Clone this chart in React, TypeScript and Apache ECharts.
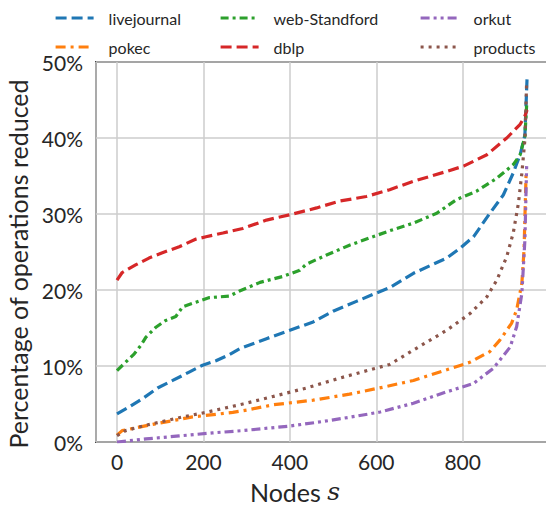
import React, { useEffect, useRef } from "react";
import * as echarts from "echarts";

const seriesNames = ["livejournal", "pokec", "web-Standford", "dblp", "orkut", "products"];
const colors = ["#1f77b4", "#ff7f0e", "#2ca02c", "#d62728", "#9467bd", "#8c564b"];
const yTicks = [0, 10, 20, 30, 40, 50];
const xTickLabels = [0, 200, 400, 600, 800];

const livejournal = [[0,3.7],[28,4.6],[59,5.7],[94,7.1],[129,8.1],[167,9.2],[198,10.1],[229,10.7],[260,11.5],[285,12.3],[346,13.6],[400,14.7],[454,15.8],[500,17.2],[554,18.5],[600,19.6],[631,20.3],[686,22.2],[763,24.2],[794,25.5],[825,27.0],[863,30.1],[894,32.5],[917,35.4],[933,37.8],[944,40.4],[949,47.9]];
const pokec = [[0,0.9],[12,1.5],[90,2.4],[175,3.3],[268,3.9],[300,4.2],[362,4.9],[454,5.5],[538,6.3],[615,7.2],[686,8.1],[763,9.5],[817,10.5],[863,11.9],[886,13.4],[913,15.6],[925,17.4],[937,20.9],[942,25.3],[947,35.8]];
const webStandford = [[0,9.4],[20,10.5],[40,11.6],[55,12.7],[67,13.8],[90,15.1],[113,16.0],[136,16.5],[152,17.8],[183,18.4],[214,19.0],[260,19.2],[285,19.9],[331,21.0],[385,21.8],[423,22.6],[438,23.4],[485,24.6],[538,25.9],[592,27.0],[631,27.8],[686,28.8],[740,30.1],[786,31.9],[832,33.0],[879,34.7],[917,36.5],[933,37.8],[944,40.2],[948,44.3]];
const dblp = [[0,21.3],[12,22.3],[43,23.3],[74,24.2],[105,24.9],[144,25.7],[183,26.7],[206,27.0],[245,27.5],[291,28.1],[346,29.2],[400,29.9],[462,30.8],[515,31.7],[577,32.3],[631,33.2],[686,34.3],[763,35.6],[802,36.3],[856,37.8],[902,40.0],[933,41.8],[944,42.9],[949,43.7]];
const orkut = [[0,0],[67,0.4],[144,0.8],[221,1.2],[291,1.5],[400,2.1],[477,2.7],[554,3.4],[609,3.95],[686,5.1],[763,6.6],[825,7.7],[871,9.7],[910,12.5],[925,15.2],[937,19.6],[944,26.6],[948,36.3]];
const products = [[0,0.84],[20,1.5],[67,2.2],[105,2.7],[152,3.3],[206,3.9],[260,4.6],[291,5.0],[362,6.0],[438,7.1],[515,8.4],[592,9.6],[631,10.2],[686,12.1],[763,14.7],[817,16.9],[856,19.1],[879,21.3],[902,24.4],[917,27.5],[929,31.4],[937,35.4],[944,39.8],[948,47.3]];

const seriesData = [livejournal, pokec, webStandford, dblp, orkut, products];
const dashes = [[11, 5], [10, 5, 3, 5], [8, 4, 3, 4], [11, 5], [9, 4, 3, 4, 3, 4], [3, 5]];

const FONT = "Lato, 'Liberation Sans', sans-serif";
const TEXT = "#262626";

export default function App() {
  const ref = useRef<HTMLDivElement>(null);
  useEffect(() => {
    const chart = echarts.init(ref.current!, null, { renderer: "svg" });
    const legendCommon = {
      orient: "vertical",
      top: 5,
      itemWidth: 38,
      itemHeight: 14,
      itemGap: 13,
      itemStyle: { opacity: 0 },
      lineStyle: { width: 3.2 },
      textStyle: { fontSize: 16, color: TEXT, fontFamily: FONT, padding: [0, 0, 0, 10] },
    };
    chart.setOption({
      animation: false,
      legend: [
        { ...legendCommon, left: 49, data: [seriesNames[0], seriesNames[1]] },
        { ...legendCommon, left: 214, data: [seriesNames[2], seriesNames[3]] },
        { ...legendCommon, left: 414, data: [seriesNames[4], seriesNames[5]] },
      ],
      grid: {
        left: 96,
        top: 62,
        right: -6,
        bottom: 71,
        show: true,
        borderColor: "#333333",
        borderWidth: 1.8,
        containLabel: false,
        outerBoundsMode: "none",
      },
      xAxis: {
        type: "value",
        min: -48.6,
        max: 1006.7,
        splitNumber: 5,
        axisLine: { show: false },
        axisTick: { show: false },
        axisLabel: {
          showMinLabel: false,
          showMaxLabel: false,
          fontSize: 21,
          color: TEXT,
          fontFamily: FONT,
          margin: 9,
          formatter: (v: number) => (xTickLabels.indexOf(v) >= 0 ? String(v) : ""),
        },
        splitLine: { show: true, lineStyle: { color: "#cccccc", width: 1.5 } },
      },
      yAxis: {
        type: "value",
        min: yTicks[0],
        max: yTicks[yTicks.length - 1],
        interval: 10,
        axisLine: { show: false },
        axisTick: { show: false },
        axisLabel: {
          formatter: "{value}%",
          fontSize: 21,
          color: TEXT,
          fontFamily: FONT,
          margin: 13,
        },
        splitLine: { show: true, lineStyle: { color: "#cccccc", width: 1.5 } },
        name: "Percentage of operations reduced",
        nameLocation: "middle",
        nameGap: 61,
        nameTextStyle: { fontSize: 25, color: TEXT, fontFamily: FONT, padding: [0, 24, 0, 0] },
      },
      graphic: [
        {
          type: "text",
          x: 295,
          y: 479,
          style: {
            text: "Nodes {i|s}",
            fontSize: 25,
            fontFamily: FONT,
            fill: TEXT,
            textAlign: "center",
            rich: {
              i: { fontSize: 25, fontStyle: "italic", fontFamily: "'DejaVu Serif', serif", fill: TEXT },
            },
          },
        },
      ],
      series: seriesNames.map((name, i) => ({
        name,
        type: "line",
        data: seriesData[i],
        symbol: "none",
        showSymbol: false,
        color: colors[i],
        lineStyle: { width: 3.2, type: dashes[i], color: colors[i] },
        z: 3,
      })),
    });
    return () => chart.dispose();
  }, []);
  return (
    <div
      ref={ref}
      style={{ position: "absolute", left: 0, top: 0, width: 546, height: 513 }}
    />
  );
}
